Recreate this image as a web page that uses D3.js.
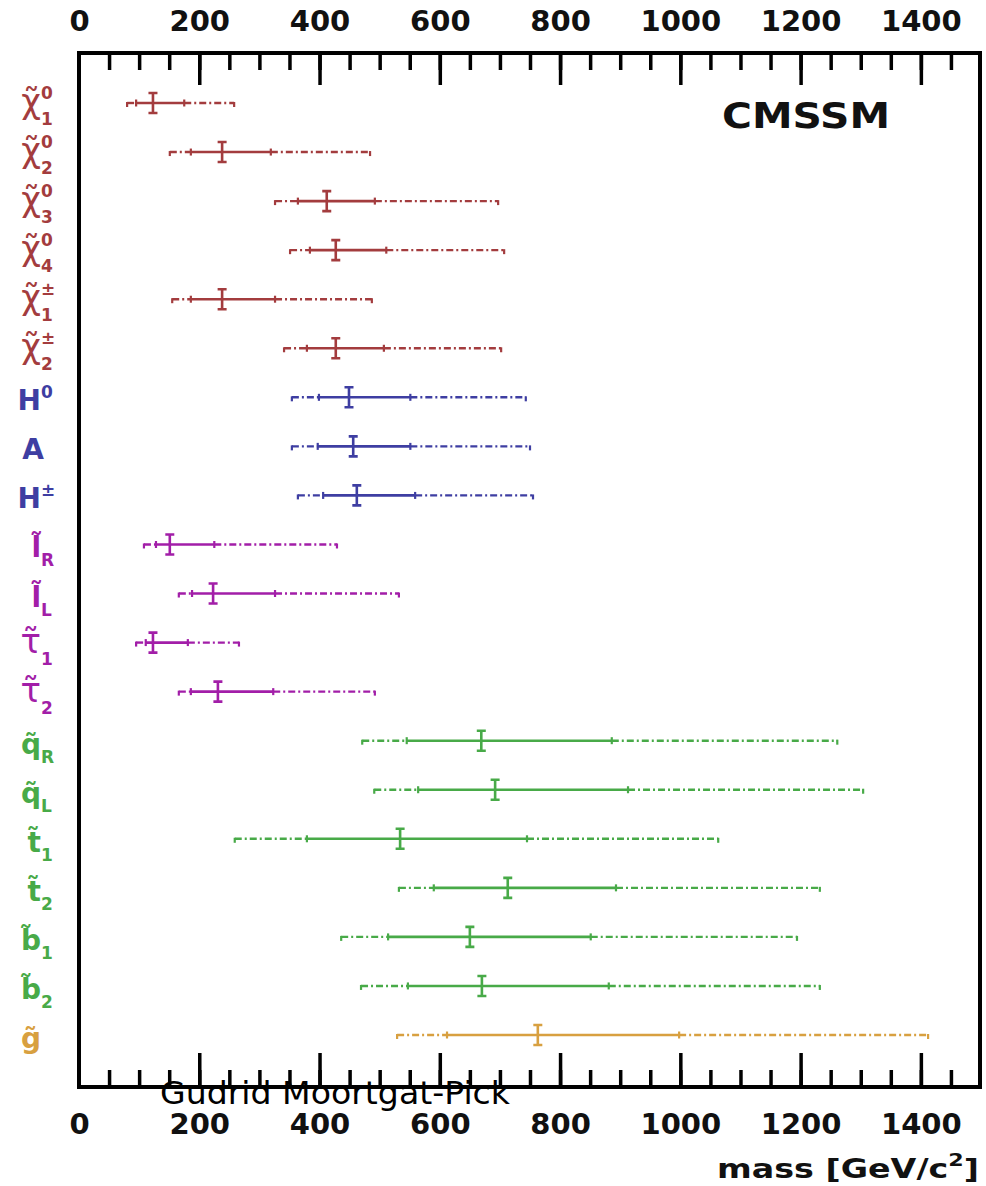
<!DOCTYPE html>
<html>
<head>
<meta charset="utf-8">
<script src="https://cdn.jsdelivr.net/npm/d3@7"></script>
<style>
  body { margin: 0; background: #fff; }
  text { font-family: "DejaVu Sans", sans-serif; }
</style>
</head>
<body>
<div id="chart"></div>
<script>
// sparticle mass ranges, CMSSM
var particles = ["chi10","chi20","chi30","chi40","chi1p","chi2p","H0","A","Hpm","lR","lL","tau1","tau2","qR","qL","t1","t2","b1","b2","g"];
var labelMain = ["χ̃","χ̃","χ̃","χ̃","χ̃","χ̃","H","A","H","l̃","l̃","τ̃","τ̃","q̃","q̃","t̃","t̃","b̃","b̃","g̃"];
var labelSup  = ["0","0","0","0","±","±","0","","±","","","","","","","","","","",""];
var labelSub  = ["1","2","3","4","1","2","","","","R","L","1","2","R","L","1","2","1","2",""];
var groups    = ["neu","neu","neu","neu","neu","neu","hig","hig","hig","slep","slep","slep","slep","sq","sq","sq","sq","sq","sq","glu"];

var outerLo = [80, 151, 326, 351, 155, 341, 354, 354, 364, 108, 166, 95, 166, 471, 491, 259, 532, 436, 469, 529];
var innerLo = [95, 186, 364, 384, 186, 379, 399, 397, 406, 128, 188, 111, 186, 545, 564, 379, 590, 514, 547, 612];
var central = [123, 238, 412, 427, 238, 427, 449, 456, 462, 151, 223, 123, 231, 669, 692, 534, 713, 650, 670, 763];
var innerHi = [175, 319, 492, 511, 326, 507, 551, 551, 559, 225, 326, 181, 323, 886, 913, 745, 893, 851, 881, 998];
var outerHi = [258, 484, 697, 707, 487, 702, 743, 750, 755, 429, 532, 266, 492, 1261, 1304, 1063, 1232, 1194, 1232, 1412];

var majorTicks = [0, 200, 400, 600, 800, 1000, 1200, 1400];
var minorTicks = d3.range(50, 1500, 50);

var width = 986, height = 1186;
var frameL = 79, frameR = 980, frameT = 53, frameB = 1087;

var color = d3.scaleOrdinal()
  .domain(["neu","hig","slep","sq","glu"])
  .range(["#a33c3e", "#3e3ea2", "#a21ea8", "#48aa48", "#d8a040"]);

var x = d3.scaleLinear().domain([0, 1500]).range([frameL, frameR + 1]);
var y = d3.scalePoint().domain(particles).range([103, 1035]);

var svg = d3.select("#chart").append("svg").attr("width", width).attr("height", height);

function styleTicks(g) {
  g.select(".domain").remove();
  g.selectAll("line").attr("stroke", "#000").attr("stroke-width", 3.5);
}
function styleLabels(g) {
  g.select(".domain").remove();
  g.selectAll("text").attr("font-family", "DejaVu Sans").attr("font-weight", "bold")
    .attr("font-size", 29).attr("fill", "#111");
}

// ticks (inward) top and bottom
svg.append("g").attr("transform", "translate(0," + frameT + ")")
  .call(d3.axisBottom(x).tickValues(minorTicks).tickSize(17).tickFormat("")).call(styleTicks);
svg.append("g").attr("transform", "translate(0," + frameT + ")")
  .call(d3.axisBottom(x).tickValues(majorTicks.slice(1)).tickSize(32).tickFormat("")).call(styleTicks);
svg.append("g").attr("transform", "translate(0," + frameB + ")")
  .call(d3.axisTop(x).tickValues(minorTicks).tickSize(17).tickFormat("")).call(styleTicks);
svg.append("g").attr("transform", "translate(0," + frameB + ")")
  .call(d3.axisTop(x).tickValues(majorTicks.slice(1)).tickSize(34).tickFormat("")).call(styleTicks);

// tick labels
svg.append("g").attr("transform", "translate(0," + frameT + ")")
  .call(d3.axisTop(x).tickValues(majorTicks).tickSize(0).tickPadding(22).tickFormat(d3.format("d")))
  .call(styleLabels);
svg.append("g").attr("transform", "translate(0," + frameB + ")")
  .call(d3.axisBottom(x).tickValues(majorTicks).tickSize(0).tickPadding(26).tickFormat(d3.format("d")))
  .call(styleLabels);

// frame
svg.append("path")
  .attr("d", "M" + frameL + "," + frameT + "H" + frameR + "V" + frameB + "H" + frameL + "Z")
  .attr("fill", "none").attr("stroke", "#000").attr("stroke-width", 4);

// error bars
var bars = svg.append("g").selectAll("g").data(particles).enter().append("g")
  .attr("stroke", function(d, i){ return color(groups[i]); })
  .attr("fill", "none");

var dash = "7,3,2,3";
bars.append("line").attr("x1", function(d, i){ return x(outerLo[i]); }).attr("x2", function(d, i){ return x(innerLo[i]); })
  .attr("y1", function(d){ return y(d); }).attr("y2", function(d){ return y(d); })
  .attr("stroke-width", 2.4).attr("stroke-dasharray", dash);
bars.append("line").attr("x1", function(d, i){ return x(innerHi[i]); }).attr("x2", function(d, i){ return x(outerHi[i]); })
  .attr("y1", function(d){ return y(d); }).attr("y2", function(d){ return y(d); })
  .attr("stroke-width", 2.4).attr("stroke-dasharray", dash);
bars.append("line").attr("x1", function(d, i){ return x(innerLo[i]); }).attr("x2", function(d, i){ return x(innerHi[i]); })
  .attr("y1", function(d){ return y(d); }).attr("y2", function(d){ return y(d); })
  .attr("stroke-width", 2.6);

// small end marks
[innerLo, innerHi].forEach(function(arr){
  bars.append("line").attr("x1", function(d, i){ return x(arr[i]); }).attr("x2", function(d, i){ return x(arr[i]); })
    .attr("y1", function(d){ return y(d) - 3.5; }).attr("y2", function(d){ return y(d) + 3.5; })
    .attr("stroke-width", 2.2);
});
[outerLo, outerHi].forEach(function(arr){
  bars.append("line").attr("x1", function(d, i){ return x(arr[i]); }).attr("x2", function(d, i){ return x(arr[i]); })
    .attr("y1", function(d){ return y(d) - 1; }).attr("y2", function(d){ return y(d) + 4; })
    .attr("stroke-width", 2.2);
});

// central value I-beam
bars.append("path")
  .attr("d", function(d, i){
    var cx = x(central[i]), cy = y(d);
    return "M" + (cx - 4.5) + "," + (cy - 10) + "H" + (cx + 4.5) +
           "M" + cx + "," + (cy - 10) + "V" + (cy + 10) +
           "M" + (cx - 4.5) + "," + (cy + 10) + "H" + (cx + 4.5);
  })
  .attr("stroke-width", 2.6);

// row labels
var labels = svg.append("g").selectAll("g").data(particles).enter().append("g")
  .attr("fill", function(d, i){ return color(groups[i]); });

function isGreek(i){ return labelMain[i].charAt(0) === "χ" || labelMain[i].charAt(0) === "τ"; }

labels.append("text")
  .attr("x", function(d, i){ return labelMain[i] === "A" ? 33 : 41; })
  .attr("y", function(d, i){ return y(d) + (isGreek(i) ? 10 : 13); })
  .attr("text-anchor", function(d, i){ return labelMain[i] === "A" ? "middle" : "end"; })
  .attr("font-family", function(d, i){ return isGreek(i) ? "Liberation Serif" : "DejaVu Sans"; })
  .attr("font-weight", function(d, i){ return isGreek(i) ? "normal" : "bold"; })
  .attr("font-size", function(d, i){ return isGreek(i) ? 34 : 28; })
  .text(function(d, i){ return labelMain[i]; });

labels.append("text")
  .attr("x", 41)
  .attr("y", function(d, i){ return y(d) + (isGreek(i) ? -4 : 1); })
  .attr("font-family", "DejaVu Sans").attr("font-weight", "bold").attr("font-size", 17)
  .text(function(d, i){ return labelSup[i]; });

labels.append("text")
  .attr("x", 41)
  .attr("y", function(d, i){ return y(d) + 22; })
  .attr("font-family", "DejaVu Sans").attr("font-weight", "bold").attr("font-size", 17)
  .text(function(d, i){ return labelSub[i]; });

// annotations
svg.append("text").attr("x", 722).attr("y", 128)
  .attr("font-family", "DejaVu Sans").attr("font-weight", "bold").attr("font-size", 36)
  .attr("textLength", 168).attr("lengthAdjust", "spacingAndGlyphs").attr("fill", "#111")
  .text("CMSSM");

var xl = svg.append("text").attr("x", 717).attr("y", 1178)
  .attr("font-family", "DejaVu Sans").attr("font-weight", "bold").attr("font-size", 27)
  .attr("textLength", 262).attr("lengthAdjust", "spacingAndGlyphs").attr("fill", "#111");
xl.append("tspan").text("mass [GeV/c");
xl.append("tspan").attr("font-size", 18).attr("dy", -12).text("2");
xl.append("tspan").attr("dy", 12).text("]");

svg.append("text").attr("x", 160).attr("y", 1104)
  .attr("font-family", "Liberation Sans").attr("font-size", 32)
  .attr("textLength", 350).attr("lengthAdjust", "spacingAndGlyphs").attr("fill", "#000")
  .text("Gudrid Moortgat-Pick");
</script>
</body>
</html>
